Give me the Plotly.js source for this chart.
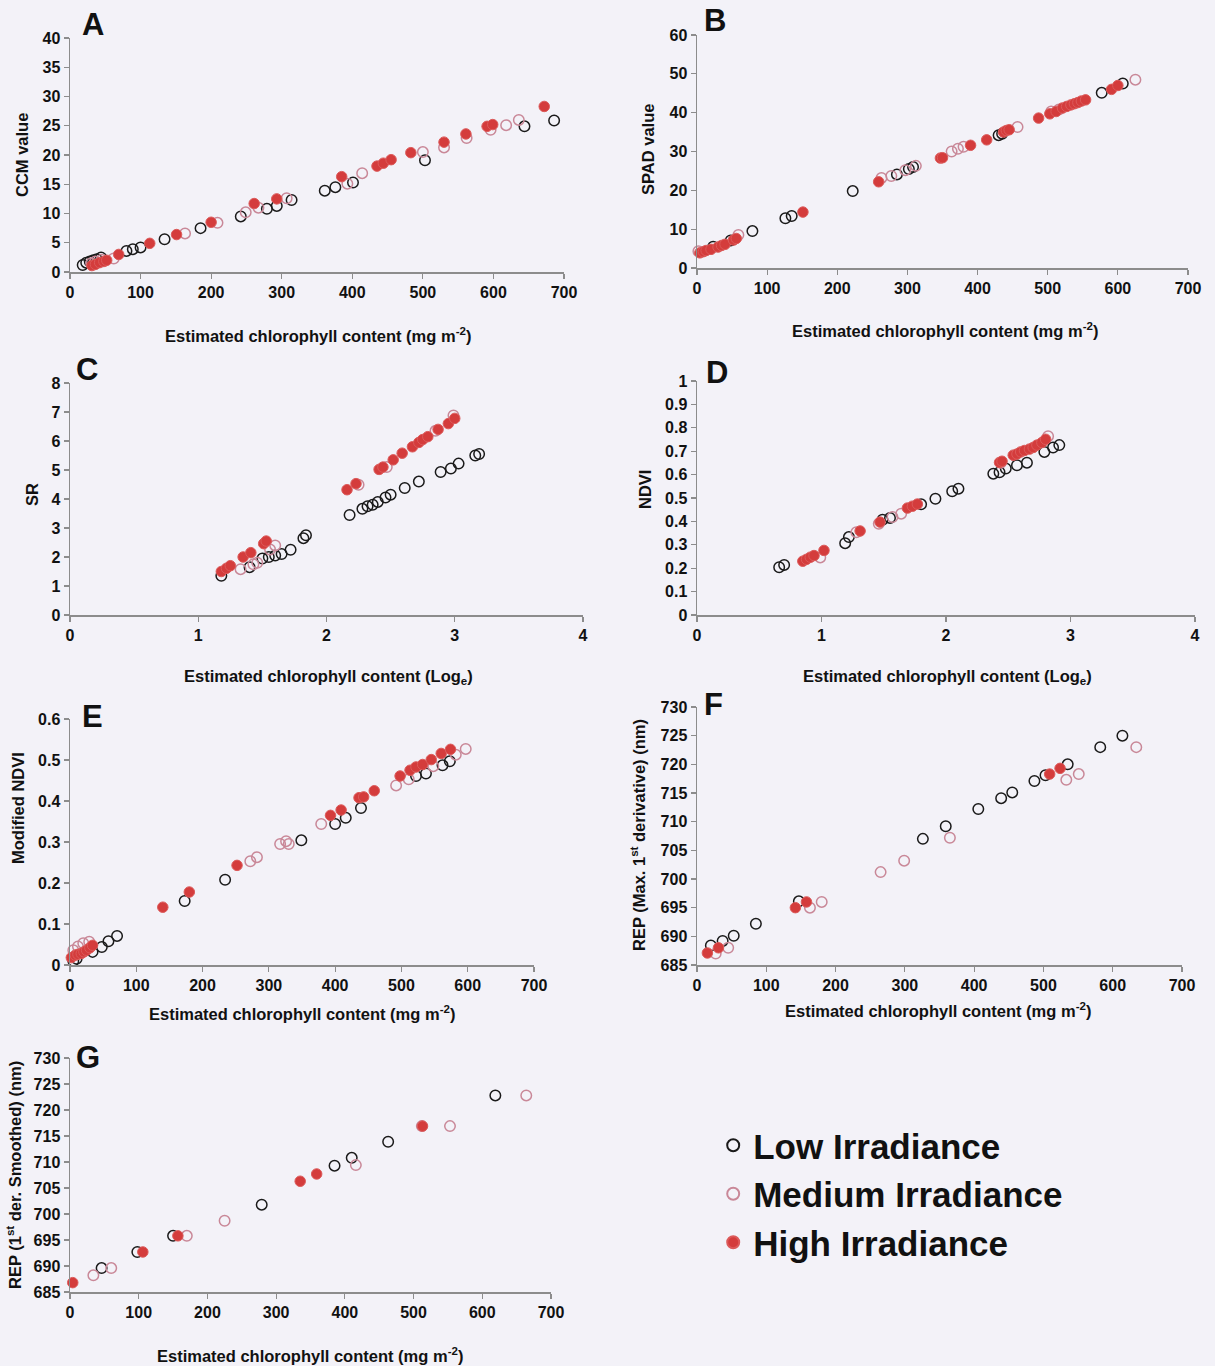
<!DOCTYPE html>
<html><head><meta charset="utf-8">
<script src="https://cdn.plot.ly/plotly-3.0.1.min.js"></script>
<style>html,body{margin:0;padding:0;background:#f3f2f8;}#chart{width:1215px;height:1366px;}</style>
</head><body><div id="chart"></div>
<script>
// ---- Panel A: CCM value vs chlorophyll (mg m-2)
var aLowX=[18,23,28,33,38,44,80,89,100,134,185,242,279,293,314,361,376,401,503,644,686];
var aLowY=[1.2,1.6,1.8,2.0,2.2,2.5,3.6,3.9,4.2,5.6,7.5,9.5,10.8,11.3,12.3,13.9,14.5,15.3,19.1,24.9,25.9];
var aMedX=[30,36,45,62,163,209,249,267,307,393,414,500,530,562,596,618,636];
var aMedY=[1.5,1.8,2.1,2.3,6.6,8.4,10.2,11.0,12.6,15.1,16.9,20.5,21.3,22.9,24.3,25.1,26.0];
var aHighX=[31,36,42,48,52,69,113,151,200,261,293,385,435,444,455,483,530,561,591,599,672];
var aHighY=[1.1,1.3,1.6,1.8,2.0,3.0,4.9,6.4,8.5,11.7,12.5,16.3,18.1,18.6,19.2,20.4,22.2,23.6,24.9,25.2,28.3];
// ---- Panel B: SPAD value
var bLowX=[23,48,79,126,135,222,285,302,308,430,435,577,607];
var bLowY=[5.5,7.1,9.5,12.8,13.4,19.8,24.1,25.5,26.0,34.2,34.6,45.1,47.5];
var bMedX=[2,59,263,277,297,312,363,372,380,457,505,516,625];
var bMedY=[4.3,8.5,23.2,23.7,25.2,26.3,30.0,30.7,31.2,36.3,40.3,40.8,48.5];
var bHighX=[4,9,13,20,30,35,40,52,56,151,259,347,350,390,413,437,441,445,487,503,512,521,527,533,538,543,548,554,591,600];
var bHighY=[3.9,4.2,4.5,4.8,5.4,5.8,6.1,7.2,7.6,14.4,22.2,28.3,28.4,31.6,33.0,35.0,35.4,35.6,38.6,39.7,40.3,41.2,41.6,42.0,42.3,42.6,43.0,43.3,46.0,47.0];
// ---- Panel C: SR vs chlorophyll (Log e)
var cLowX=[1.18,1.40,1.50,1.55,1.60,1.65,1.72,1.82,1.84,2.18,2.28,2.32,2.36,2.40,2.46,2.50,2.61,2.72,2.89,2.97,3.03,3.16,3.19];
var cLowY=[1.35,1.65,1.95,2.0,2.05,2.1,2.25,2.65,2.75,3.45,3.66,3.75,3.8,3.9,4.05,4.15,4.38,4.6,4.93,5.05,5.22,5.5,5.55];
var cMedX=[1.33,1.43,1.46,1.56,1.60,2.25,2.47,2.85,2.99];
var cMedY=[1.58,1.75,1.8,2.26,2.4,4.49,5.1,6.35,6.88];
var cHighX=[1.18,1.22,1.25,1.35,1.41,1.51,1.53,2.16,2.23,2.41,2.44,2.52,2.59,2.67,2.72,2.75,2.79,2.87,2.95,3.0];
var cHighY=[1.5,1.61,1.7,2.0,2.15,2.46,2.55,4.32,4.53,5.02,5.1,5.35,5.58,5.8,5.95,6.05,6.15,6.4,6.6,6.78];
// ---- Panel D: NDVI vs chlorophyll (Log e)
var dLowX=[0.66,0.70,1.19,1.22,1.49,1.55,1.80,1.915,2.05,2.10,2.38,2.43,2.48,2.57,2.65,2.79,2.86,2.91];
var dLowY=[0.204,0.214,0.307,0.333,0.407,0.415,0.473,0.497,0.529,0.54,0.604,0.61,0.626,0.64,0.651,0.697,0.716,0.726];
var dMedX=[0.99,1.28,1.46,1.57,1.64,2.44,2.82];
var dMedY=[0.246,0.354,0.39,0.419,0.433,0.651,0.764];
var dHighX=[0.85,0.88,0.91,0.94,1.02,1.31,1.47,1.69,1.73,1.77,2.43,2.45,2.54,2.57,2.60,2.63,2.67,2.70,2.73,2.77,2.80];
var dHighY=[0.23,0.238,0.247,0.254,0.276,0.359,0.397,0.457,0.465,0.474,0.652,0.657,0.683,0.688,0.697,0.703,0.709,0.716,0.726,0.737,0.751];
// ---- Panel E: Modified NDVI
var eLowX=[5,10,34,48,58,71,173,234,349,400,416,439,522,537,562,573];
var eLowY=[0.01,0.015,0.032,0.044,0.058,0.071,0.156,0.208,0.304,0.344,0.359,0.383,0.461,0.467,0.487,0.497];
var eMedX=[5,12,20,29,272,282,317,326,330,379,492,511,548,582,597];
var eMedY=[0.036,0.045,0.053,0.057,0.253,0.263,0.295,0.302,0.295,0.344,0.438,0.453,0.485,0.513,0.527];
var eHighX=[2,8,12,17,21,25,30,34,140,180,252,393,409,436,443,459,498,513,522,532,545,560,574];
var eHighY=[0.018,0.024,0.026,0.028,0.032,0.036,0.042,0.048,0.141,0.178,0.243,0.365,0.378,0.408,0.41,0.425,0.461,0.475,0.483,0.489,0.501,0.516,0.526];
// ---- Panel F: REP (Max. 1st derivative)
var fLowX=[20,37,53,85,147,326,359,406,439,455,487,503,535,582,614];
var fLowY=[688.4,689.2,690.1,692.2,696.1,707,709.2,712.2,714.1,715.1,717.1,718.1,720,723,725];
var fMedX=[27,45,163,180,265,299,365,533,551,634];
var fMedY=[687,688,695,696,701.2,703.2,707.2,717.3,718.3,723];
var fHighX=[15,31,142,158,509,524];
var fHighY=[687.1,688,695,696,718.3,719.3];
// ---- Panel G: REP (1st der. Smoothed)
var gLowX=[46,98,150,279,385,410,463,619];
var gLowY=[689.6,692.7,695.8,701.8,709.3,710.8,713.9,722.8];
var gMedX=[34,60,170,225,416,512,553,664];
var gMedY=[688.2,689.6,695.8,698.7,709.4,716.9,716.9,722.8];
var gHighX=[4,106,157,335,359,513];
var gHighY=[686.8,692.7,695.8,706.3,707.7,716.9];

var seriesNames=['Low Irradiance','Medium Irradiance','High Irradiance'];
var panels=[
 {L:[aLowX,aLowY],M:[aMedX,aMedY],H:[aHighX,aHighY]},
 {L:[bLowX,bLowY],M:[bMedX,bMedY],H:[bHighX,bHighY]},
 {L:[cLowX,cLowY],M:[cMedX,cMedY],H:[cHighX,cHighY]},
 {L:[dLowX,dLowY],M:[dMedX,dMedY],H:[dHighX,dHighY]},
 {L:[eLowX,eLowY],M:[eMedX,eMedY],H:[eHighX,eHighY]},
 {L:[fLowX,fLowY],M:[fMedX,fMedY],H:[fHighX,fHighY]},
 {L:[gLowX,gLowY],M:[gMedX,gMedY],H:[gHighX,gHighY]}
];
var styles={
 L:{color:'rgba(0,0,0,0)',line:{color:'#1a1a1a',width:1.5}},
 M:{color:'rgba(0,0,0,0)',line:{color:'#c98898',width:1.5}},
 H:{color:'#d43c3c',line:{color:'#dc5a5a',width:1}}
};
var traces=[];
panels.forEach(function(p,i){
  var sfx=i===0?'':String(i+1);
  ['L','M','H'].forEach(function(k,j){
    traces.push({type:'scatter',mode:'markers',x:p[k][0],y:p[k][1],
      xaxis:'x'+sfx,yaxis:'y'+sfx,name:seriesNames[j],legendgroup:k,
      showlegend:i===0,cliponaxis:false,
      marker:{size:10.5,symbol:'circle',color:styles[k].color,line:styles[k].line}});
  });
});

var W=1215,H=1366;
function xd(a,b){return [a/W,b/W];}
function yd(top,bot){return [1-bot/H,1-top/H];}
var FAM='Liberation Sans, Arial, sans-serif';
var tf={family:FAM,size:16,color:'#111',weight:'bold'};
function ax(extra){
  var o={showline:true,linecolor:'#8c8c8c',linewidth:1.5,ticks:'outside',ticklen:5,tickwidth:1.2,
    tickcolor:'#8c8c8c',showgrid:false,zeroline:false,tickfont:tf,fixedrange:true};
  for(var k in extra)o[k]=extra[k];return o;
}
var layout={
  width:W,height:H,margin:{l:0,r:0,t:0,b:0},
  paper_bgcolor:'#f3f2f8',plot_bgcolor:'rgba(0,0,0,0)',
  showlegend:true,
  legend:{x:0.587,y:0.183,xanchor:'left',yanchor:'top',bgcolor:'rgba(0,0,0,0)',
    font:{family:FAM,size:35,color:'#111',weight:'bold'},
    traceorder:'grouped',tracegroupgap:0,itemsizing:'constant'},
  xaxis:ax({domain:xd(70,564),range:[0,700],dtick:100,anchor:'y'}),
  yaxis:ax({domain:yd(38,272),range:[0,40],dtick:5,anchor:'x'}),
  xaxis2:ax({domain:xd(697,1188),range:[0,700],dtick:100,anchor:'y2'}),
  yaxis2:ax({domain:yd(35,268),range:[0,60],dtick:10,anchor:'x2'}),
  xaxis3:ax({domain:xd(70,583),range:[0,4],dtick:1,anchor:'y3'}),
  yaxis3:ax({domain:yd(383,615),range:[0,8],dtick:1,anchor:'x3'}),
  xaxis4:ax({domain:xd(697,1195),range:[0,4],dtick:1,anchor:'y4'}),
  yaxis4:ax({domain:yd(381,615),range:[0,1],dtick:0.1,anchor:'x4'}),
  xaxis5:ax({domain:xd(70,534),range:[0,700],dtick:100,anchor:'y5'}),
  yaxis5:ax({domain:yd(719,965),range:[0,0.6],dtick:0.1,anchor:'x5'}),
  xaxis6:ax({domain:xd(697,1182),range:[0,700],dtick:100,anchor:'y6'}),
  yaxis6:ax({domain:yd(707,965),range:[685,730],dtick:5,anchor:'x6'}),
  xaxis7:ax({domain:xd(70,551),range:[0,700],dtick:100,anchor:'y7'}),
  yaxis7:ax({domain:yd(1058,1292),range:[685,730],dtick:5,anchor:'x7'}),
  annotations:[]
};
var tfont={family:FAM,size:16.5,color:'#111',weight:'bold'};
var xTitleMg='Estimated chlorophyll content (mg m<sup>-2</sup>)';
var xTitleLog='Estimated chlorophyll content (Log<sub>e</sub>)';
var texts=[
 // [text, x px, y px, rotation]
 [xTitleMg,318,335,0],[xTitleMg,945,330,0],[xTitleLog,328,677,0],[xTitleLog,947,677,0],
 [xTitleMg,302,1013,0],[xTitleMg,938,1010,0],[xTitleMg,310,1355,0],
 ['CCM value',22,155,-90],['SPAD value',648,150,-90],['SR',32,495,-90],['NDVI',645,490,-90],
 ['Modified NDVI',18,808,-90],['REP (Max. 1<sup>st</sup> derivative) (nm)',638,835,-90],
 ['REP (1<sup>st</sup> der. Smoothed) (nm)',14,1175,-90]
];
texts.forEach(function(t){
  layout.annotations.push({text:t[0],xref:'paper',yref:'paper',x:t[1]/W,y:1-t[2]/H,
    xanchor:'center',yanchor:'middle',showarrow:false,textangle:t[3],font:tfont});
});
var letters=[['A',93,24],['B',715,20],['C',87,370],['D',717,372],['E',92,716],['F',713,704],['G',88,1057]];
letters.forEach(function(l){
  layout.annotations.push({text:l[0],xref:'paper',yref:'paper',x:l[1]/W,y:1-l[2]/H,
    xanchor:'center',yanchor:'middle',showarrow:false,
    font:{family:FAM,size:31,color:'#111',weight:'bold'}});
});
Plotly.newPlot('chart',traces,layout,{staticPlot:true});
</script></body></html>
